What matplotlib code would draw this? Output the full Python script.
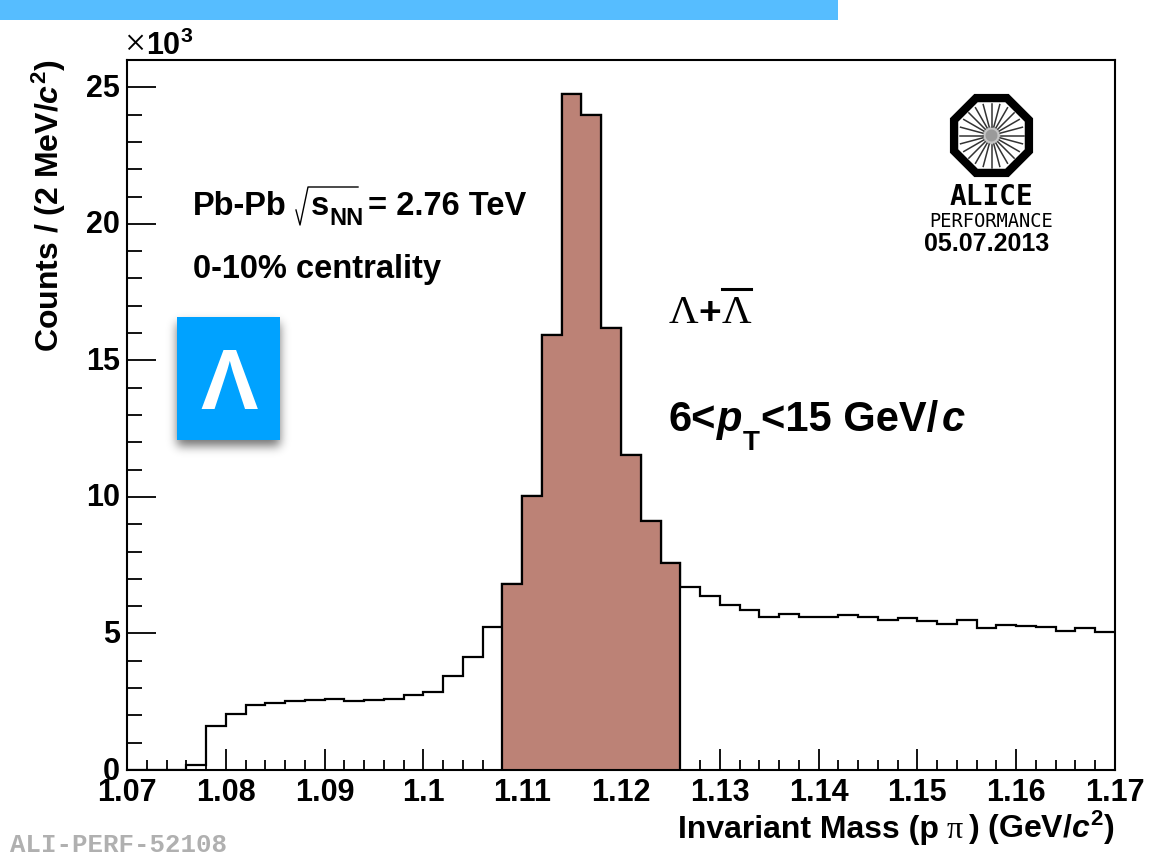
import numpy as np
import matplotlib
matplotlib.use('Agg')
import matplotlib.pyplot as plt
from matplotlib.patches import Rectangle, Polygon
from matplotlib.lines import Line2D
from matplotlib.transforms import ScaledTranslation

# counts per 2 MeV bin, in units of 10^3
bin_edges = [1.07 + 0.002 * i for i in range(51)]
counts = [0, 0, 0, 0.18, 1.61, 2.06, 2.38, 2.45, 2.51, 2.55,
          2.60, 2.54, 2.55, 2.61, 2.73, 2.87, 3.44, 4.15, 5.22, 6.82,
          10.03, 15.92, 24.76, 23.98, 16.18, 11.53, 9.11, 7.58, 6.70, 6.36,
          6.06, 5.86, 5.60, 5.71, 5.60, 5.60, 5.66, 5.60, 5.50, 5.56,
          5.45, 5.34, 5.50, 5.21, 5.30, 5.27, 5.23, 5.09, 5.20, 5.04]
peak_first = 19
peak_last = 28
x_major = [1.07, 1.08, 1.09, 1.10, 1.11, 1.12, 1.13, 1.14, 1.15, 1.16, 1.17]
x_labels = ['1.07', '1.08', '1.09', '1.1', '1.11', '1.12', '1.13', '1.14', '1.15', '1.16', '1.17']
y_major = [0, 5, 10, 15, 20, 25]

plt.rcParams['font.family'] = ['Liberation Sans', 'DejaVu Sans']
plt.rcParams['font.weight'] = 'bold'
plt.rcParams['mathtext.fontset'] = 'custom'
plt.rcParams['mathtext.rm'] = 'Liberation Sans:bold'
plt.rcParams['mathtext.it'] = 'Liberation Sans:italic:bold'
plt.rcParams['mathtext.bf'] = 'Liberation Sans:bold'
plt.rcParams['mathtext.default'] = 'rm'

W, H = 1154, 866
fig = plt.figure(figsize=(W / 100, H / 100), dpi=100)

def fx(x):
    return x / W

def fy(y):
    return 1 - y / H

def ftext(x, y, s, **kw):
    kw.setdefault('va', 'baseline')
    return fig.text(fx(x), fy(y), s, **kw)

def fline(xs, ys, **kw):
    fig.add_artist(Line2D([fx(v) for v in xs], [fy(v) for v in ys], **kw))

ax = fig.add_axes([fx(127), fy(770), fx(1115 - 127), (770 - 60) / H])
ax.patch.set_alpha(0)
ax.set_xlim(1.07, 1.17)
ax.set_ylim(0, 26)
ax.set_axisbelow(True)

edges = np.array(bin_edges)
vals = np.array(counts)
ax.stairs(vals, edges, color='black', lw=1.6, baseline=None)
ax.stairs(vals[peak_first:peak_last], edges[peak_first:peak_last + 1], fill=True,
          facecolor='#BC8276', edgecolor='none', baseline=0)
ax.stairs(vals[peak_first:peak_last], edges[peak_first:peak_last + 1], color='black',
          lw=1.6, baseline=0)

ax.set_xticks(x_major)
ax.set_xticklabels(x_labels)
ax.set_yticks(y_major)
ax.set_xticks(edges[(np.arange(51) % 5) != 0], minor=True)
ax.set_yticks([v for v in range(26) if v % 5 != 0], minor=True)
ax.tick_params(axis='x', which='major', direction='in', length=15, width=1.3, labelsize=22, pad=6)
ax.tick_params(axis='x', which='minor', direction='in', length=7.5, width=1.3)
ax.tick_params(axis='y', which='major', direction='in', length=21, width=1.3, labelsize=22, pad=5)
ax.tick_params(axis='y', which='minor', direction='in', length=10.5, width=1.3)
up = ScaledTranslation(0, 2 / 100, fig.dpi_scale_trans)
for tick in ax.yaxis.get_major_ticks():
    tick.label1.set_transform(tick.label1.get_transform() + up)
for s in ax.spines.values():
    s.set_linewidth(1.5)

# axis titles
ftext(59, 352, r'Counts / (2 MeV/$\mathit{c}^{2}$)', rotation=90, fontsize=23,
      ha='left', rotation_mode='anchor')
ftext(678, 838, 'Invariant Mass (p', fontsize=23)
ftext(947, 838, '\u03c0', fontsize=23, family='Liberation Serif', weight='normal')
ftext(1115, 838, r') (GeV/$\mathit{c}^{2}$)', fontsize=23, ha='right')
ftext(124, 55, '\u00d7', fontsize=27, family='Liberation Serif', weight='normal')
ftext(146, 55, '10$^{3}$', fontsize=22)

# annotations
ftext(193, 215, 'Pb-Pb', fontsize=23.5)
fline([296, 300, 308, 358], [210, 225, 187, 187], color='black', lw=1.0)
ftext(311, 215, 's', fontsize=23.5)
ftext(329, 225, 'NN', fontsize=17)
ftext(368, 215, '= 2.76 TeV', fontsize=23.5)
ftext(193, 278, '0-10% centrality', fontsize=23.5)
ftext(669, 323, '\u039b', fontsize=29.5, family='Liberation Serif', weight='normal')
ftext(698, 324, '+', fontsize=28)
ftext(722, 323, '\u039b', fontsize=29.5, family='Liberation Serif', weight='normal')
fline([722, 751], [289, 289], color='black', lw=2.2)
ftext(669, 431, '6<', fontsize=30)
ftext(717, 431, 'p', fontsize=30, style='italic')
ftext(743, 450, 'T', fontsize=20)
ftext(761, 431, '<15 GeV/', fontsize=30)
ftext(942, 431, 'c', fontsize=30, style='italic')

# blue bar along the top
fig.add_artist(Rectangle((0, fy(20)), fx(838), 20 / H, transform=fig.transFigure,
                         facecolor='#56BDFF', edgecolor='none'))

# lambda badge with soft shadow
pad = 24
box = np.zeros((123 + 2 * pad, 103 + 2 * pad))
box[pad:pad + 123, pad:pad + 103] = 1
kern = np.exp(-0.5 * (np.arange(-14, 15) / 5.0) ** 2)
kern /= kern.sum()
box = np.apply_along_axis(lambda r: np.convolve(r, kern, mode='same'), 0, box)
box = np.apply_along_axis(lambda r: np.convolve(r, kern, mode='same'), 1, box)
shadow = np.zeros(box.shape + (4,))
shadow[..., 3] = box * 0.55
fig.figimage(shadow, xo=177 - pad, yo=H - (440 + 6 + pad), origin='upper', zorder=0.5)
fig.add_artist(Rectangle((fx(177), fy(440)), fx(103), 123 / H, transform=fig.transFigure,
                         facecolor='#00A2FF', edgecolor='none'))
ftext(229, 409, '\u039b', fontsize=62, color='white', weight='bold', ha='center',
      family='Liberation Sans')

# ALICE logo
cx, cy = 991.5, 135.5
ang = np.deg2rad(22.5 + 45 * np.arange(8))
for r, col in [(45, 'black'), (36, 'white')]:
    pts = [(fx(cx + r * np.cos(a)), fy(cy + r * np.sin(a))) for a in ang]
    fig.add_artist(Polygon(pts, closed=True, transform=fig.transFigure, facecolor=col, edgecolor='none'))
for a in np.deg2rad(np.arange(0, 360, 360 / 24)):
    fline([cx + 9 * np.cos(a), cx + 32 * np.cos(a)], [cy + 9 * np.sin(a), cy + 32 * np.sin(a)],
          color='#333333', lw=1.1)
for r, g in [(9, '#c4c4c4'), (6, '#9a9a9a')]:
    fig.add_artist(Polygon([(fx(cx + r * np.cos(a)), fy(cy + r * np.sin(a))) for a in np.linspace(0, 2 * np.pi, 25)],
                           closed=True, transform=fig.transFigure, facecolor=g, edgecolor='none'))
ftext(991.5, 205, 'ALICE', family='DejaVu Sans Mono', weight='bold', fontsize=20, ha='center')
ftext(991.5, 227, 'PERFORMANCE', family='DejaVu Sans Mono', weight='normal', fontsize=13.5, ha='center')
ftext(987, 251, '05.07.2013', fontsize=18, ha='center')

ftext(10, 852, 'ALI-PERF-52108', family='Liberation Mono', fontsize=18.5, color='#B0B0B0')

fig.savefig('out.png', dpi=100)
